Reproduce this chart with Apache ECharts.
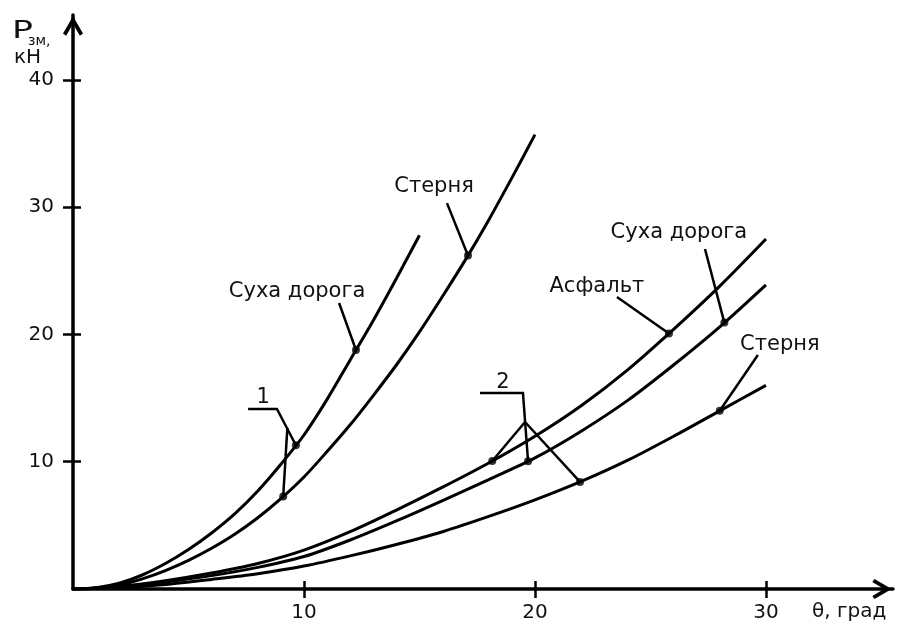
<!DOCTYPE html>
<html><head><meta charset="utf-8">
<script src="https://cdn.jsdelivr.net/npm/echarts@6/dist/echarts.min.js"></script>
<style>html,body{margin:0;padding:0;background:#fff}#c{width:903px;height:628px}</style>
</head><body><div id="c"></div>
<script>
// ---- data ----
const xTicks = [10, 20, 30];
const yTicks = [10, 20, 30, 40];

// group 1
const thetaDry1 = [0,1,2,3,4,5,6,7,8,9,10,11,12,13,14,15];
const pDry1     = [0,0.1,0.45,1.1,2.0,3.1,4.4,5.9,7.7,9.8,12.1,14.9,18.0,21.1,24.4,27.8];
const thetaStub1 = [0,1,2,3,4,5,6,7,8,9,10,11,12,13,14,15,16,17,18,19,20];
const pStub1     = [0,0.05,0.3,0.8,1.45,2.25,3.2,4.3,5.6,7.1,8.8,10.8,12.9,15.2,17.6,20.2,23.0,25.9,29.0,32.3,35.7];
// group 2
const theta2    = [0,2,4,6,8,10,12,14,16,18,20,22,24,26,28,30];
const pAsphalt2 = [0,0.2,0.65,1.25,2.0,3.05,4.5,6.2,8.0,9.9,12.0,14.4,17.2,20.4,23.8,27.5];
const pDry2     = [0,0.15,0.55,1.05,1.7,2.55,3.85,5.35,6.95,8.6,10.3,12.4,14.8,17.6,20.6,23.9];
const pStub2    = [0,0.1,0.35,0.75,1.2,1.8,2.6,3.5,4.5,5.7,7.0,8.45,10.1,12.0,14.0,16.0];

// annotations
const labelTexts = ['Суха дорога','Стерня','Асфальт','Суха дорога','Стерня','1','2'];
const labelPos = [[9.7,23.4],[15.63,31.66],[22.68,23.8],[26.23,27.97],[30.6,19.17],[8.23,15.08],[18.61,16.26]];
// dots: [curve index, theta]
const dotDefs = [[0,12.25],[1,17.1],[2,25.8],[3,28.2],[4,28.0],[0,9.65],[1,9.1],[2,18.15],[3,19.7],[4,21.95]];
// leader lines: list of points, numbers refer to dot index
const leaderDefs = [
  [[11.52,22.47], 0],
  [[16.19,30.32], 1],
  [[23.55,22.94], 2],
  [[27.36,26.71], 3],
  [[29.65,18.38], 4],
  [[7.58,14.14],[8.83,14.14], 5],
  [[9.28,12.65], 6],
  [[17.62,15.40],[19.48,15.40], 8],
  [[19.57,13.12], 7],
  [[19.57,13.12], 9]
];

// ---- build ----
const curves = [[thetaDry1,pDry1],[thetaStub1,pStub1],[theta2,pAsphalt2],[theta2,pDry2],[theta2,pStub2]];
function yAt(xs, ys, x){
  for (let i=1;i<xs.length;i++){
    if (x<=xs[i]){ const t=(x-xs[i-1])/(xs[i]-xs[i-1]); return ys[i-1]+t*(ys[i]-ys[i-1]); }
  }
  return ys[ys.length-1];
}
const dots = dotDefs.map(d => [d[1], yAt(curves[d[0]][0], curves[d[0]][1], d[1])]);
const leaders = leaderDefs.map(l => ({coords: l.map(p => typeof p === 'number' ? dots[p] : p)}));

const FONT = 'DejaVu Sans';
const TXT = '#111';
const arrow = 'path://M10,0 L20,17.2 L16.9,19.4 L10,7.6 L3.1,19.4 L0,17.2 Z';
const tickStyle = {color:'#000', width:2.5};
function baseAxis(ticks, extra){
  return Object.assign({
    type:'value', min:0,
    axisLine:{show:true, onZero:false, lineStyle:{color:'#000', width:3.5}, symbol:['none', arrow], symbolSize:[20,22], symbolOffset:[0,-11]},
    axisTick:{show:true, customValues:ticks, length:9, lineStyle:tickStyle},
    axisLabel:{show:true, customValues:ticks, fontSize:20, color:TXT, fontFamily:FONT},
    splitLine:{show:false}
  }, extra);
}
function innerAxis(ticks, extra){
  return Object.assign({
    type:'value', min:0,
    axisLine:{show:false, onZero:false},
    axisTick:{show:true, inside:true, customValues:ticks, length:8, lineStyle:tickStyle},
    axisLabel:{show:false},
    splitLine:{show:false}
  }, extra);
}
const xa = baseAxis(xTicks, {max:35.5, position:'bottom'}); xa.axisLabel.margin = 14;
const ya = baseAxis(yTicks, {max:45.1, position:'left'}); ya.axisLabel.margin = 19; ya.axisTick.length = 10;

const curveSeries = curves.map(c => ({
  type:'line', xAxisIndex:0, yAxisIndex:0, showSymbol:false, symbol:'none', smooth:0.3,
  lineStyle:{color:'#000', width:3}, data:c[0].map((x,i)=>[x,c[1][i]]), silent:true, z:3
}));

const chart = echarts.init(document.getElementById('c'), null, {renderer:'canvas'});
chart.setOption({
  animation:false,
  backgroundColor:'#fff',
  grid:{left:73, top:15, width:820, height:574, containLabel:false, outerBoundsMode:'none'},
  xAxis:[xa, innerAxis(xTicks, {max:35.5, position:'bottom'})],
  yAxis:[ya, innerAxis(yTicks, {max:45.1, position:'left'})],
  series: curveSeries.concat([
    {type:'lines', coordinateSystem:'cartesian2d', polyline:true, xAxisIndex:0, yAxisIndex:0,
     lineStyle:{color:'#000', width:2.5, opacity:1}, data:leaders, silent:true, z:4},
    {type:'scatter', xAxisIndex:0, yAxisIndex:0, symbol:'circle', symbolSize:8,
     itemStyle:{color:'#000'}, data:dots, silent:true, z:5},
    {type:'scatter', xAxisIndex:0, yAxisIndex:0, symbolSize:1, itemStyle:{color:'#fff', opacity:1},
     label:{show:true, position:'inside', formatter:'{b}', fontSize:21, color:TXT, fontFamily:FONT,
            textBorderWidth:0, textBorderColor:'transparent', opacity:1},
     data: labelPos.map((p,i)=>({name:labelTexts[i], value:p})), silent:true, z:6}
  ]),
  graphic:[
    {type:'text', x:12, y:19.5, scaleX:1.45, style:{text:'P', fontSize:24, fontFamily:FONT, fill:TXT, verticalAlign:'top', align:'left'}},
    {type:'text', x:28, y:34, style:{text:'зм,', fontSize:14, fontFamily:FONT, fill:TXT, verticalAlign:'top', align:'left'}},
    {type:'text', x:14, y:48, style:{text:'кН', fontSize:20, fontFamily:FONT, fill:TXT, verticalAlign:'top', align:'left'}},
    {type:'text', x:812, y:602, style:{text:'θ, град', fontSize:20, fontFamily:FONT, fill:TXT, verticalAlign:'top', align:'left'}}
  ]
});
</script></body></html>
